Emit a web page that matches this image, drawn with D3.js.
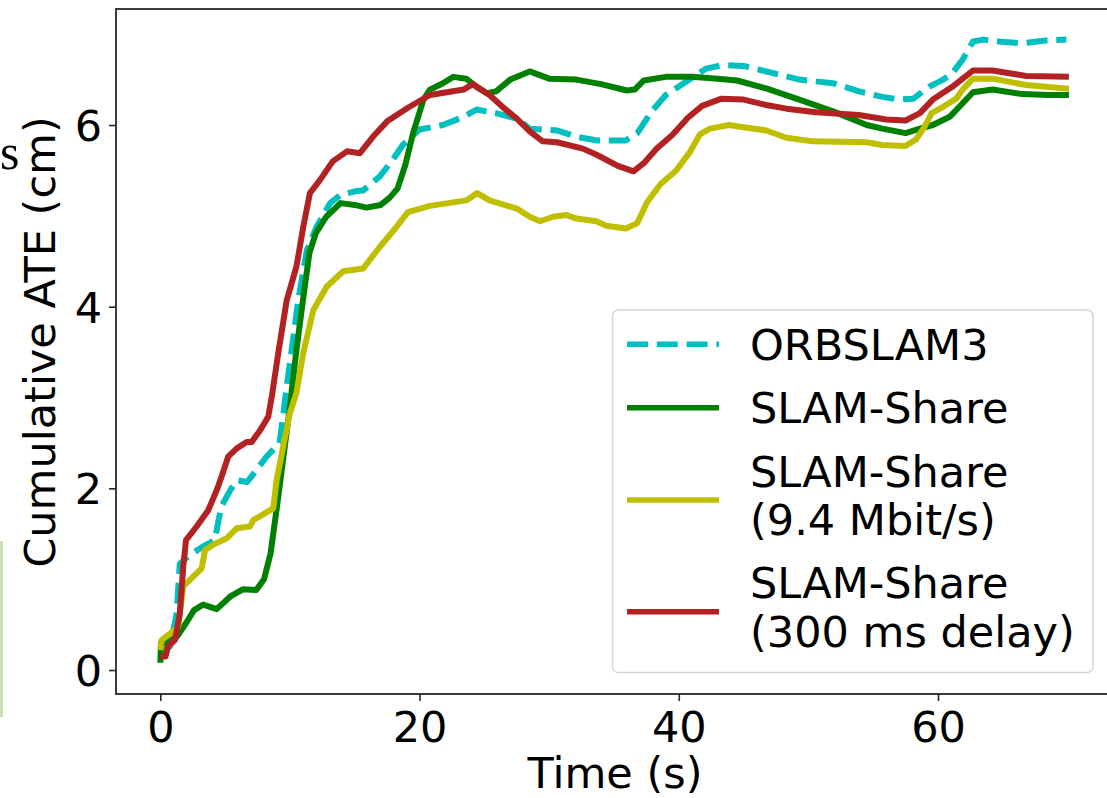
<!DOCTYPE html>
<html>
<head>
<meta charset="utf-8">
<script src="https://cdn.jsdelivr.net/npm/d3@7"></script>
<style>
  html, body { margin: 0; padding: 0; background: #fff; }
  svg { display: block; }
  text { font-family: "DejaVu Sans", sans-serif; fill: #000; }
</style>
</head>
<body>
<svg id="chart" width="1107" height="798"></svg>
<script>
// ---------- data ----------
const xTicks = [0, 20, 40, 60];
const yTicks = [0, 2, 4, 6];
const xLabel = "Time (s)";
const yLabel = "Cumulative ATE (cm)";
const seriesNames = ["ORBSLAM3", "SLAM-Share", "SLAM-Share\n(9.4 Mbit/s)", "SLAM-Share\n(300 ms delay)"];

const orbTime = [0, 0.4, 0.75, 1.26, 1.5, 2.3, 3.3, 4.2, 4.7, 5.4, 5.9, 6.7, 7.4, 8.2, 9.2, 9.5, 9.75, 10.13, 10.64, 11.3, 12.06, 13.1, 13.9, 15.0, 15.65, 16.9, 17.9, 18.7, 20.0, 21.8, 23.4, 24.4, 25.9, 27.5, 28.5, 30.6, 32.1, 33.7, 35.9, 36.8, 37.9, 39.0, 40.7, 42.1, 43.4, 45.0, 47.3, 49.3, 51.9, 53.9, 55.7, 57.0, 58.1, 59.3, 60.4, 61.1, 61.9, 62.7, 63.5, 64.7, 66.5, 68.3, 69.9];
const orbATE  = [0.2, 0.3, 0.26, 0.62, 1.17, 1.27, 1.36, 1.43, 1.80, 1.98, 2.09, 2.07, 2.20, 2.35, 2.50, 2.83, 3.12, 3.52, 4.07, 4.62, 4.88, 5.14, 5.23, 5.27, 5.28, 5.43, 5.61, 5.78, 5.95, 6.0, 6.09, 6.17, 6.13, 6.07, 5.96, 5.94, 5.87, 5.83, 5.83, 5.91, 6.15, 6.33, 6.49, 6.62, 6.66, 6.65, 6.57, 6.50, 6.46, 6.37, 6.31, 6.28, 6.29, 6.42, 6.50, 6.57, 6.72, 6.92, 6.94, 6.92, 6.90, 6.93, 6.94];

const shareTime = [0, 0.05, 0.5, 1.3, 2.0, 2.6, 3.3, 4.35, 5.4, 6.4, 7.4, 8.0, 8.5, 9.0, 9.5, 10.0, 10.5, 11.0, 11.5, 12.0, 12.8, 13.9, 15.0, 15.9, 17.0, 17.7, 18.3, 18.9, 19.5, 20.3, 20.8, 21.8, 22.6, 23.6, 24.4, 25.2, 25.9, 27.0, 28.5, 30.0, 32.1, 34.0, 36.0, 36.6, 37.3, 39.0, 41.0, 43.0, 44.5, 46.8, 49.3, 51.9, 54.5, 55.7, 57.5, 58.6, 59.6, 60.9, 61.9, 62.7, 64.2, 66.5, 68.5, 70.1];
const shareATE  = [0.08, 0.3, 0.3, 0.37, 0.52, 0.66, 0.72, 0.67, 0.81, 0.89, 0.88, 1.0, 1.28, 1.80, 2.35, 2.9, 3.52, 4.07, 4.59, 4.81, 4.99, 5.14, 5.12, 5.09, 5.12, 5.2, 5.3, 5.56, 5.91, 6.28, 6.39, 6.46, 6.53, 6.51, 6.42, 6.35, 6.37, 6.50, 6.59, 6.51, 6.50, 6.45, 6.38, 6.39, 6.49, 6.53, 6.53, 6.51, 6.49, 6.40, 6.28, 6.15, 6.0, 5.96, 5.91, 5.96, 6.0, 6.09, 6.24, 6.36, 6.39, 6.34, 6.33, 6.33];

const bwTime = [0, 0.1, 0.75, 1.39, 1.77, 2.55, 3.19, 3.45, 4.09, 5.12, 5.89, 6.92, 7.17, 8.71, 8.97, 9.48, 10.0, 10.5, 11.03, 11.8, 12.83, 14.1, 15.65, 16.94, 18.23, 19.1, 20.8, 23.6, 24.45, 25.4, 27.5, 28.5, 29.3, 30.3, 31.3, 32.1, 33.65, 34.4, 35.9, 36.8, 37.55, 38.6, 39.8, 40.8, 41.65, 42.4, 43.9, 44.7, 46.75, 48.3, 50.35, 54.5, 55.7, 57.5, 58.3, 58.96, 59.5, 60.4, 61.4, 61.9, 62.7, 64.2, 66.8, 70.1];
const bwATE  = [0.22, 0.33, 0.40, 0.48, 0.92, 1.03, 1.12, 1.32, 1.38, 1.45, 1.56, 1.58, 1.65, 1.78, 2.09, 2.46, 2.83, 3.05, 3.49, 3.96, 4.22, 4.39, 4.42, 4.66, 4.88, 5.04, 5.11, 5.17, 5.25, 5.17, 5.08, 4.99, 4.94, 4.99, 5.01, 4.97, 4.94, 4.89, 4.86, 4.92, 5.15, 5.35, 5.50, 5.69, 5.90, 5.96, 6.0, 5.98, 5.94, 5.86, 5.82, 5.81, 5.78, 5.77, 5.84, 5.98, 6.13, 6.20, 6.29, 6.39, 6.51, 6.51, 6.44, 6.40];

const delayTime = [0, 0.4, 0.6, 1.13, 1.5, 1.77, 1.98, 2.8, 3.7, 4.35, 4.73, 5.24, 5.9, 6.66, 7.05, 7.7, 8.33, 8.6, 9.1, 9.75, 10.5, 11.03, 11.54, 12.3, 13.3, 14.4, 15.4, 16.4, 17.5, 19.1, 20.8, 23.4, 24.1, 25.4, 26.4, 27.5, 28.5, 29.5, 30.6, 32.6, 33.7, 35.3, 36.5, 37.3, 38.3, 39.5, 40.7, 41.8, 43.3, 45.0, 46.75, 48.3, 50.6, 53.9, 56.0, 57.5, 58.6, 59.6, 61.1, 61.9, 62.7, 64.2, 66.8, 70.1];
const delayATE  = [0.15, 0.15, 0.26, 0.33, 0.62, 1.14, 1.43, 1.58, 1.76, 1.98, 2.13, 2.35, 2.44, 2.51, 2.51, 2.64, 2.79, 3.01, 3.49, 4.07, 4.44, 4.88, 5.25, 5.39, 5.60, 5.71, 5.69, 5.87, 6.04, 6.19, 6.33, 6.39, 6.45, 6.33, 6.20, 6.07, 5.93, 5.82, 5.81, 5.74, 5.67, 5.55, 5.49, 5.58, 5.74, 5.89, 6.08, 6.21, 6.29, 6.28, 6.22, 6.18, 6.14, 6.11, 6.06, 6.05, 6.13, 6.28, 6.42, 6.51, 6.60, 6.60, 6.54, 6.53];

const seriesColors = ["#00bfbf", "#008000", "#bfbf00", "#b22222"];
const seriesDash = ["21,8.8", null, null, null];

// ---------- drawing ----------
const svg = d3.select("#chart");
const FS = 43;

// fragments of neighbouring content at the left edge of the crop
svg.append("rect").attr("x", 0).attr("y", 541).attr("width", 3).attr("height", 176).attr("fill", "#c6e0b4");
svg.append("text").attr("x", 0).attr("y", 169).style("font-family", "'Liberation Serif', serif")
  .style("font-size", "50px").text("s");

const x = d3.scaleLinear().domain([-3.42, 73.5]).range([116, 1113]);
const y = d3.scaleLinear().domain([-0.264, 7.277]).range([694, 9]);

svg.append("clipPath").attr("id", "plotclip").append("rect")
  .attr("x", 116).attr("y", 9).attr("width", 997).attr("height", 685);

const tables = [
  orbTime.map((t, i) => [t, orbATE[i]]),
  shareTime.map((t, i) => [t, shareATE[i]]),
  bwTime.map((t, i) => [t, bwATE[i]]),
  delayTime.map((t, i) => [t, delayATE[i]])
];

const line = d3.line().x(d => x(d[0])).y(d => y(d[1])).curve(d3.curveLinear);
const lines = svg.append("g").attr("clip-path", "url(#plotclip)");
tables.forEach((tbl, i) => {
  lines.append("path").datum(tbl)
    .attr("d", line).attr("fill", "none")
    .attr("stroke", seriesColors[i]).attr("stroke-width", 6)
    .attr("stroke-linejoin", "round")
    .attr("stroke-dasharray", seriesDash[i]);
});

// axes
const xAxis = d3.axisBottom(x).tickValues(xTicks).tickSize(7).tickPadding(10).tickFormat(d3.format("d"));
const yAxis = d3.axisLeft(y).tickValues(yTicks).tickSize(7).tickPadding(6).tickFormat(d3.format("d"));

const gx = svg.append("g").attr("transform", "translate(0,694)").call(xAxis);
const gy = svg.append("g").attr("transform", "translate(116,0)").call(yAxis);
[gx, gy].forEach(g => {
  g.select(".domain").remove();
  g.selectAll(".tick line").attr("stroke", "#262626").attr("stroke-width", 1.6);
  g.selectAll(".tick text").style("font-size", FS + "px").style("font-family", "'DejaVu Sans', sans-serif").attr("fill", "#000");
});
gx.selectAll(".tick text").attr("dy", null).attr("y", 48);
gy.selectAll(".tick text").attr("x", -14).attr("dy", "0.36em");

// frame (right spine lies just past the cropped edge)
svg.append("rect").attr("x", 116).attr("y", 9).attr("width", 997).attr("height", 685)
  .attr("fill", "none").attr("stroke", "#262626").attr("stroke-width", 1.8);

// axis labels
svg.append("text").attr("x", 615).attr("y", 788).attr("text-anchor", "middle")
  .style("font-size", FS + "px").text(xLabel);
svg.append("text").attr("transform", "translate(55,342) rotate(-90)").attr("text-anchor", "middle")
  .style("font-size", FS + "px").text(yLabel);

// legend
const lg = svg.append("g");
lg.append("rect").attr("x", 612.5).attr("y", 310).attr("width", 480.5).attr("height", 362.5)
  .attr("rx", 6).attr("fill", "#fff").attr("fill-opacity", 0.85)
  .attr("stroke", "#d5d5d5").attr("stroke-width", 1.5);
const handleY = [344.3, 407.7, 500, 611.7];
const textBase = [[360], [423.3], [486.7, 535], [598.3, 646.7]];
seriesNames.forEach((name, i) => {
  lg.append("line").attr("x1", 627).attr("x2", 719).attr("y1", handleY[i]).attr("y2", handleY[i])
    .attr("stroke", seriesColors[i]).attr("stroke-width", 5.5)
    .attr("stroke-dasharray", seriesDash[i]);
  name.split("\n").forEach((part, k) => {
    lg.append("text").attr("x", 750).attr("y", textBase[i][k])
      .style("font-size", FS + "px").text(part);
  });
});
</script>
</body>
</html>
